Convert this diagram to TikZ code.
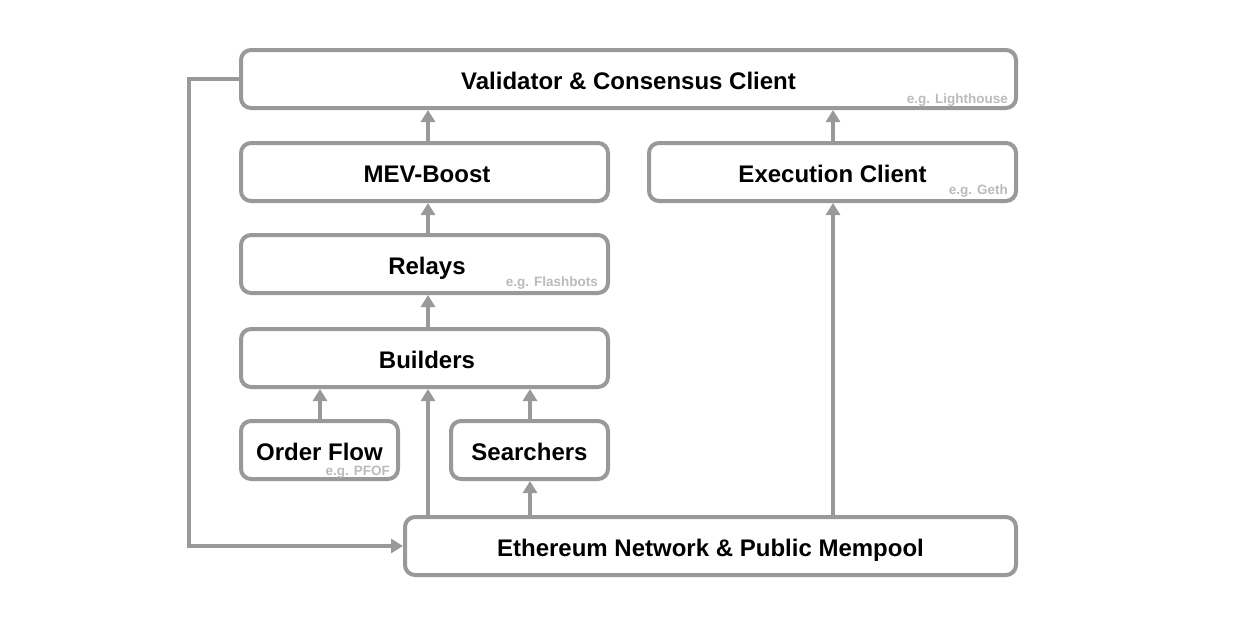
\documentclass[tikz,border=0pt]{standalone}
\usepackage{fontspec}
\setmainfont{Liberation Sans}
\usetikzlibrary{arrows.meta,calc}
\definecolor{linegray}{HTML}{999999}
\definecolor{notegray}{HTML}{BBBBBB}
\begin{document}
\begin{tikzpicture}[x=1pt,y=-1pt,
  box/.style={draw=linegray, line width=4pt, rounded corners=10pt, fill=white,
    inner sep=0pt, text height=22pt, text depth=1pt, font=\fontsize{24}{28}\selectfont\bfseries},
  note/.style={text=notegray, inner sep=0pt, font=\fontsize{13.5}{16}\selectfont\bfseries},
  arr/.style={draw=linegray, line width=3.5pt, -{Triangle[length=12pt,width=14pt]}}]
\fill[white] (0,0) rectangle (1233,619);
\useasboundingbox (0,0) rectangle (1233,619);
\node[box, minimum width=775pt, minimum height=58pt] (val) at (628.5,79) {Validator \& Consensus Client};
\node[box, minimum width=367pt, minimum height=58pt] (mev) at (424.5,172) {\hspace*{5pt}MEV-Boost};
\node[box, minimum width=367pt, minimum height=58pt] (exe) at (832.5,172) {Execution Client};
\node[box, minimum width=367pt, minimum height=58pt] (rel) at (424.5,264) {\hspace*{5pt}Relays};
\node[box, minimum width=367pt, minimum height=58pt] (bld) at (424.5,358) {\hspace*{5pt}Builders};
\node[box, minimum width=157pt, minimum height=58pt] (ord) at (319.5,450) {Order Flow};
\node[box, minimum width=157pt, minimum height=58pt] (sea) at (529.5,450) {Searchers};
\node[box, minimum width=611pt, minimum height=58pt] (eth) at (710.5,546) {Ethereum Network \& Public Mempool};
\node[note, anchor=base east] (nval) at (1008,103) {e.g. Lighthouse};
\node[note, anchor=base east] (nexe) at (1008,194) {e.g. Geth};
\node[note, anchor=base east] (nrel) at (598,286) {e.g. Flashbots};
\node[note, anchor=base east] (nord) at (390,475) {e.g. PFOF};
\coordinate (xa) at (428,0);
\coordinate (xb) at (833,0);
\coordinate (xc) at (320,0);
\coordinate (xd) at (530,0);
\coordinate (xl) at (189,0);
\draw[arr] (mev.north -| xa) -- (val.south -| xa);
\draw[arr] (exe.north -| xb) -- (val.south -| xb);
\draw[arr] (rel.north -| xa) -- (mev.south -| xa);
\draw[arr] (bld.north -| xa) -- (rel.south -| xa);
\draw[arr] (ord.north -| xc) -- (bld.south -| xc);
\draw[arr] (sea.north -| xd) -- (bld.south -| xd);
\draw[arr] (eth.north -| xa) -- (bld.south -| xa);
\draw[arr] (eth.north -| xd) -- (sea.south -| xd);
\draw[arr] (eth.north -| xb) -- (exe.south -| xb);
\draw[arr] (val.west) -- (val.west -| xl) |- (eth.west);
\end{tikzpicture}
\end{document}
